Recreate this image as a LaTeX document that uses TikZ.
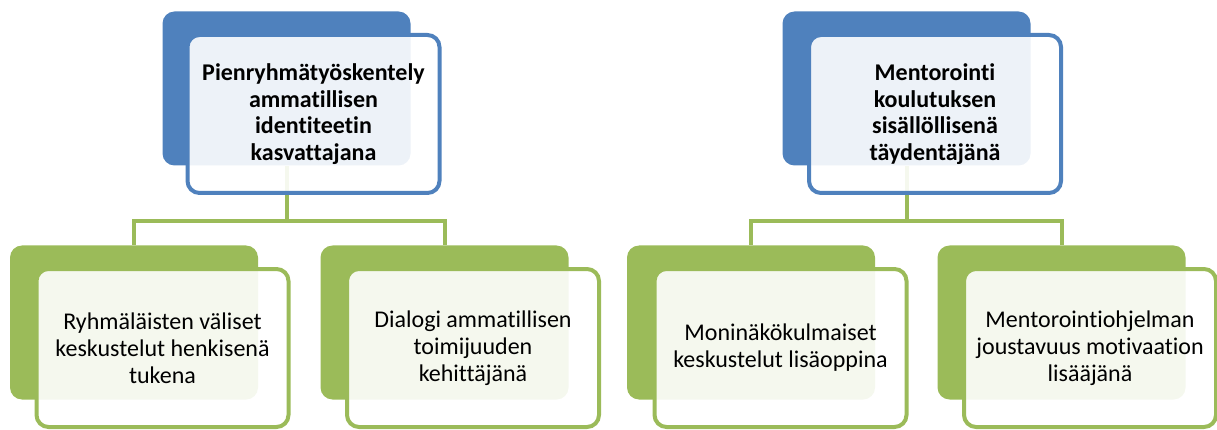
\documentclass[tikz,border=0pt]{standalone}
\usepackage{fontspec}
\setmainfont[Ligatures={NoCommon, NoRequired}]{Carlito}
\definecolor{accblue}{RGB}{79, 129, 189}
\definecolor{accgreen}{RGB}{155, 187, 89}
\usepackage{tikz}
\usetikzlibrary{positioning, calc}

\begin{document}
\begin{tikzpicture}[x=1pt, y=-1pt,
    backbox/.style={fill=#1, rounded corners=12pt, minimum width=248pt, minimum height=154pt, inner sep=0pt},
    frontbox/.style={draw=#1, line width=4pt, fill=white, fill opacity=0.9, text opacity=1, rounded corners=12pt, minimum width=252pt, minimum height=158pt, align=center, inner sep=4pt},
    conn/.style={draw=accgreen, line width=4pt},
    toptext/.style={font=\fontsize{24}{26.5}\selectfont\bfseries},
    subtext/.style={font=\fontsize{24}{27}\selectfont}]
  \useasboundingbox (0,0) rectangle (1217,430);

  % Back panels
  \node[backbox=accblue] (pienb) at (286.5, 88.5) {};
  \node[backbox=accblue] (mentb) at (906.5, 88.5) {};
  \node[backbox=accgreen] (ryhb) at (134, 322.5) {};
  \node[backbox=accgreen] (dialb) at (444.5, 322.5) {};
  \node[backbox=accgreen] (monib) at (751, 322.5) {};
  \node[backbox=accgreen] (ohjb) at (1061.5, 322.5) {};

  % Connectors
  \coordinate (pienj) at (286.5, 221);
  \coordinate (mentj) at (906.5, 221);
  \draw[conn] (pienb.south) -- (pienj) -| (ryhb.north);
  \draw[conn] (pienj) -| (dialb.north);
  \draw[conn] (mentb.south) -- (mentj) -| (monib.north);
  \draw[conn] (mentj) -| (ohjb.north);

  % Top level
  \node[frontbox=accblue, toptext] (pien) at (313.5, 114) {Pienryhmätyöskentely\\ammatillisen\\identiteetin\\kasvattajana};
  \node[frontbox=accblue, toptext] (ment) at (935, 114) {Mentorointi\\koulutuksen\\sisällöllisenä\\täydentäjänä};

  % Second level
  \node[frontbox=accgreen, subtext] (ryh) at (162.5, 348) {Ryhmäläisten väliset\\keskustelut henkisenä\\tukena};
  \node[frontbox=accgreen, subtext] (dial) at (473, 348) {Dialogi ammatillisen\\toimijuuden\\kehittäjänä};
  \node[frontbox=accgreen, subtext] (moni) at (780.5, 348) {Moninäkökulmaiset\\keskustelut lisäoppina};
  \node[frontbox=accgreen, subtext] (ohj) at (1090, 348) {Mentorointiohjelman\\joustavuus motivaation\\lisääjänä};
\end{tikzpicture}
\end{document}
